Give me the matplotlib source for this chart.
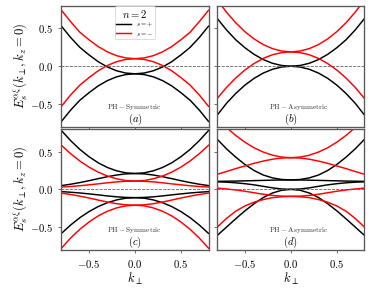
import numpy as np
import matplotlib
matplotlib.use("Agg")
import matplotlib.pyplot as plt

plt.rcParams["mathtext.fontset"] = "cm"
plt.rcParams["font.family"] = "serif"
plt.rcParams["font.serif"] = ["cmr10"]
plt.rcParams["axes.formatter.use_mathtext"] = True

# k_perp sample points
k = [-0.8, -0.7, -0.6, -0.5, -0.4, -0.3, -0.2, -0.1, 0.0,
     0.1, 0.2, 0.3, 0.4, 0.5, 0.6, 0.7, 0.8]

# (a) PH-symmetric, 4 bands
a_black_up = [0.53, 0.38, 0.25, 0.15, 0.06, -0.01, -0.06, -0.09, -0.10,
              -0.09, -0.06, -0.01, 0.06, 0.15, 0.25, 0.38, 0.53]
a_black_dn = [-0.73, -0.58, -0.45, -0.35, -0.26, -0.19, -0.14, -0.11, -0.10,
              -0.11, -0.14, -0.19, -0.26, -0.35, -0.45, -0.58, -0.73]
a_red_up = [0.74, 0.59, 0.45, 0.35, 0.26, 0.19, 0.14, 0.11, 0.10,
            0.11, 0.14, 0.19, 0.26, 0.35, 0.45, 0.59, 0.74]
a_red_dn = [-0.53, -0.38, -0.25, -0.15, -0.06, 0.01, 0.06, 0.09, 0.10,
            0.09, 0.06, 0.01, -0.06, -0.15, -0.25, -0.38, -0.53]

# (b) PH-asymmetric, 4 bands
b_black_up = [0.63, 0.48, 0.35, 0.245, 0.157, 0.088, 0.039, 0.01, 0.0,
              0.01, 0.039, 0.088, 0.157, 0.245, 0.35, 0.48, 0.63]
b_black_dn = [-0.645, -0.49, -0.36, -0.25, -0.16, -0.09, -0.04, -0.01, 0.0,
              -0.01, -0.04, -0.09, -0.16, -0.25, -0.36, -0.49, -0.645]
b_red_up = [0.875, 0.715, 0.575, 0.457, 0.361, 0.286, 0.233, 0.201, 0.19,
            0.201, 0.233, 0.286, 0.361, 0.457, 0.575, 0.715, 0.875]
b_red_dn = [-0.425, -0.28, -0.156, -0.05, 0.036, 0.104, 0.152, 0.18, 0.19,
            0.18, 0.152, 0.104, 0.036, -0.05, -0.156, -0.28, -0.425]

# (c) PH-symmetric, 8 bands
c_black = [
    [0.78, 0.646, 0.53, 0.433, 0.352, 0.29, 0.246, 0.219, 0.21,
     0.219, 0.246, 0.29, 0.352, 0.433, 0.53, 0.646, 0.78],
    [0.05, 0.068, 0.09, 0.115, 0.142, 0.168, 0.19, 0.205, 0.21,
     0.205, 0.19, 0.168, 0.142, 0.115, 0.09, 0.068, 0.05],
    [-0.03, -0.038, -0.048, -0.06, -0.073, -0.087, -0.099, -0.107, -0.11,
     -0.107, -0.099, -0.087, -0.073, -0.06, -0.048, -0.038, -0.03],
    [-0.584, -0.473, -0.376, -0.295, -0.228, -0.177, -0.14, -0.117, -0.11,
     -0.117, -0.14, -0.177, -0.228, -0.295, -0.376, -0.473, -0.584],
]
c_red = [
    [0.584, 0.473, 0.376, 0.295, 0.228, 0.177, 0.14, 0.117, 0.11,
     0.117, 0.14, 0.177, 0.228, 0.295, 0.376, 0.473, 0.584],
    [0.03, 0.038, 0.048, 0.06, 0.073, 0.087, 0.099, 0.107, 0.11,
     0.107, 0.099, 0.087, 0.073, 0.06, 0.048, 0.038, 0.03],
    [-0.05, -0.068, -0.09, -0.115, -0.142, -0.168, -0.19, -0.205, -0.21,
     -0.205, -0.19, -0.168, -0.142, -0.115, -0.09, -0.068, -0.05],
    [-0.78, -0.646, -0.53, -0.433, -0.352, -0.29, -0.246, -0.219, -0.21,
     -0.219, -0.246, -0.29, -0.352, -0.433, -0.53, -0.646, -0.78],
]

# (d) PH-asymmetric, 8 bands
d_black = [
    [0.663, 0.537, 0.427, 0.33, 0.25, 0.19, 0.152, 0.131, 0.125,
     0.131, 0.152, 0.19, 0.25, 0.33, 0.427, 0.537, 0.663],
    [0.106, 0.108, 0.11, 0.113, 0.116, 0.119, 0.122, 0.124, 0.125,
     0.124, 0.122, 0.119, 0.116, 0.113, 0.11, 0.108, 0.106],
    [0.10, 0.095, 0.087, 0.075, 0.06, 0.04, 0.02, 0.005, 0.0,
     0.005, 0.02, 0.04, 0.06, 0.075, 0.087, 0.095, 0.10],
    [-0.61, -0.50, -0.39, -0.285, -0.19, -0.108, -0.048, -0.012, 0.0,
     -0.012, -0.048, -0.108, -0.19, -0.285, -0.39, -0.50, -0.61],
]
d_red = [
    [0.945, 0.82, 0.715, 0.625, 0.551, 0.494, 0.453, 0.428, 0.42,
     0.428, 0.453, 0.494, 0.551, 0.625, 0.715, 0.82, 0.945],
    [0.20, 0.237, 0.275, 0.31, 0.345, 0.375, 0.40, 0.415, 0.42,
     0.415, 0.40, 0.375, 0.345, 0.31, 0.275, 0.237, 0.20],
    [0.017, 0.005, -0.008, -0.025, -0.045, -0.065, -0.08, -0.09, -0.093,
     -0.09, -0.08, -0.065, -0.045, -0.025, -0.008, 0.005, 0.017],
    [-0.50, -0.385, -0.29, -0.22, -0.17, -0.135, -0.11, -0.098, -0.093,
     -0.098, -0.11, -0.135, -0.17, -0.22, -0.29, -0.385, -0.50],
]

fig = plt.figure(figsize=(4, 3), dpi=96)
ax_a = fig.add_axes([0.160, 0.560, 0.383, 0.420])
ax_b = fig.add_axes([0.566, 0.560, 0.383, 0.420])
ax_c = fig.add_axes([0.160, 0.133, 0.383, 0.419])
ax_d = fig.add_axes([0.566, 0.133, 0.383, 0.419])

lw = 1.1
ax_a.plot(k, a_black_up, color="black", lw=lw, label=r"$s=+$")
ax_a.plot(k, a_black_dn, color="black", lw=lw)
ax_a.plot(k, a_red_up, color="red", lw=lw, label=r"$s=-$")
ax_a.plot(k, a_red_dn, color="red", lw=lw)

ax_b.plot(k, b_black_up, color="black", lw=lw)
ax_b.plot(k, b_black_dn, color="black", lw=lw)
ax_b.plot(k, b_red_up, color="red", lw=lw)
ax_b.plot(k, b_red_dn, color="red", lw=lw)

for band in c_black:
    ax_c.plot(k, band, color="black", lw=lw)
for band in c_red:
    ax_c.plot(k, band, color="red", lw=lw)
for band in d_black:
    ax_d.plot(k, band, color="black", lw=lw)
for band in d_red:
    ax_d.plot(k, band, color="red", lw=lw)

tags = {ax_a: (r"$\mathrm{PH-Symmetric}$", r"$(a)$", 0.5),
        ax_b: (r"$\mathrm{PH-Asymmetric}$", r"$(b)$", 0.55),
        ax_c: (r"$\mathrm{PH-Symmetric}$", r"$(c)$", 0.5),
        ax_d: (r"$\mathrm{PH-Asymmetric}$", r"$(d)$", 0.55)}

for ax, (name, tag, xt) in tags.items():
    ax.axhline(0, color="0.35", ls="--", lw=0.6)
    ax.set_xlim(-0.8, 0.8)
    ax.set_ylim(-0.8, 0.8)
    ax.set_xticks([-0.5, 0.0, 0.5])
    ax.set_yticks([-0.5, 0.0, 0.5])
    ax.tick_params(labelsize=8, length=2.5, width=0.6, color="0.3")
    for sp in ax.spines.values():
        sp.set_color("0.35")
        sp.set_linewidth(1.0)
    ax.text(xt, 0.145, name, transform=ax.transAxes, ha="center", fontsize=5.5, color="0.2")
    ax.text(0.5, 0.04, tag, transform=ax.transAxes, ha="center", fontsize=8)

ax_a.tick_params(labelbottom=False)
ax_b.tick_params(labelbottom=False, labelleft=False)
ax_d.tick_params(labelleft=False)

ylab = r"$E_s^{\alpha\xi}(k_\perp, k_z=0)$"
ax_a.set_ylabel(ylab, fontsize=9.5, labelpad=1)
ax_c.set_ylabel(ylab, fontsize=9.5, labelpad=1)
ax_c.set_xlabel(r"$k_\perp$", fontsize=9.5, labelpad=1)
ax_d.set_xlabel(r"$k_\perp$", fontsize=9.5, labelpad=1)

leg = ax_a.legend(loc="upper center", title=r"$n=2$", fontsize=5, title_fontsize=8,
                  handlelength=2.2, borderpad=0.2, labelspacing=0.2,
                  borderaxespad=0.1, framealpha=1, edgecolor="0.8")
leg.get_frame().set_linewidth(0.5)

fig.savefig("out.png", dpi=96)
